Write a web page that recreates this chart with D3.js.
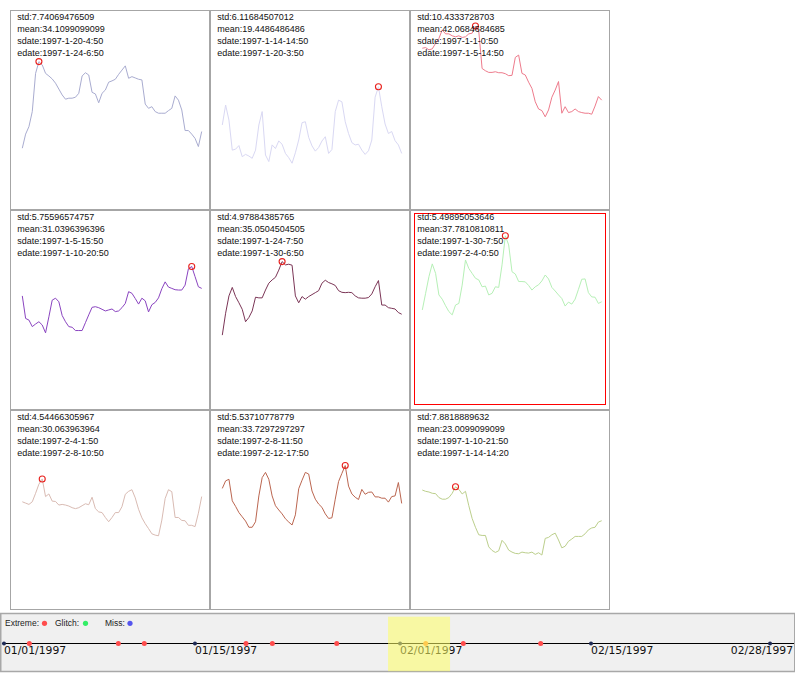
<!DOCTYPE html>
<html><head><meta charset="utf-8">
<script src="https://cdn.jsdelivr.net/npm/d3@7"></script>
<style>body{margin:0;background:#fff}svg{display:block}</style>
</head><body>
<svg id="c" width="795" height="673"></svg>
<script>
// ---- panel data ----
const panelStd = ["7.74069476509","6.11684507012","10.4333728703","5.75596574757","4.97884385765","5.49895053646","4.54466305967","5.53710778779","7.8818889632"];
const panelMean = ["34.1099099099","19.4486486486","42.0684684685","31.0396396396","35.0504504505","37.7810810811","30.063963964","33.7297297297","23.0099099099"];
const panelSdate = ["1997-1-20-4:50","1997-1-14-14:50","1997-1-1-0:50","1997-1-5-15:50","1997-1-24-7:50","1997-1-30-7:50","1997-2-4-1:50","1997-2-8-11:50","1997-1-10-21:50"];
const panelEdate = ["1997-1-24-6:50","1997-1-20-3:50","1997-1-5-14:50","1997-1-10-20:50","1997-1-30-6:50","1997-2-4-0:50","1997-2-8-10:50","1997-2-12-17:50","1997-1-14-14:20"];
const panelColors = ["#a9acd0","#d9d8f3","#ee7b8c","#8a44c0","#7b3556","#b6f0b6","#d9bbb3","#bb6650","#bccf8c"];

const series1 = [17.7,22.0,24.3,28.9,40.6,44.2,43.2,40.6,39.8,38.9,37.6,35.8,34.0,32.7,33.0,33.0,33.3,34.5,39.8,40.8,40.1,34.8,34.3,31.6,34.5,35.5,37.9,38.3,38.8,40.3,41.6,42.9,39.1,39.6,39.2,38.8,38.6,31.2,29.9,30.4,28.9,28.4,28.4,28.4,29.2,29.9,33.7,32.4,29.4,23.1,23.1,22.0,20.7,18.2,22.8];
const series2 = [24.8,30.9,26.3,17.1,17.4,18.5,15.1,15.8,15.3,14.6,17.1,24.8,28.9,15.6,13.6,18.7,17.6,19.9,18.9,16.1,14.8,13.1,16.3,20.2,25.5,25.8,21.0,18.4,16.8,17.9,19.9,21.2,16.1,17.3,28.9,32.4,31.9,25.8,22.2,19.4,18.7,18.9,17.1,15.8,16.9,20.2,33.3,36.5,30.4,25.1,22.2,22.8,20.0,18.7,16.1];
const series3 = [48.3,48.5,47.8,48.1,49.8,51.3,53.9,52.7,52.7,52.1,51.8,52.1,51.6,51.8,52.7,52.9,55.1,53.5,42.1,41.4,40.9,40.9,41.1,40.8,40.8,40.5,39.9,40.0,45.5,46.2,40.6,40.1,37.9,36.0,31.9,29.7,29.2,27.3,29.4,33.3,35.5,38.1,28.4,30.4,28.6,28.9,29.7,28.9,28.6,28.4,28.4,28.1,30.6,33.5,32.4];
const series4 = [33.7,26.8,26.3,24.3,25.1,25.8,24.8,22.4,27.3,32.4,33.0,31.9,27.7,25.8,24.3,24.1,23.1,23.1,23.1,25.5,27.9,30.2,30.4,30.1,29.6,29.1,29.4,29.7,28.9,29.1,30.1,31.4,35.0,34.5,32.9,31.2,33.0,32.2,28.8,31.0,31.7,33.1,35.9,38.0,36.4,36.0,35.6,35.5,35.5,37.0,42.0,42.7,39.6,36.5,36.0];
const series5 = [21.7,28.4,33.7,36.3,33.5,31.6,29.6,25.8,27.1,29.1,33.3,33.1,33.1,35.5,37.6,38.6,39.4,41.6,44.2,43.2,43.4,43.1,33.7,31.6,33.5,32.7,33.5,34.1,34.7,35.3,37.6,38.5,37.8,37.4,36.9,35.3,34.8,34.7,34.8,34.7,33.7,33.1,33.0,33.0,33.2,34.3,36.5,38.4,30.9,30.9,30.1,29.9,29.7,28.6,28.1];
const series6 = [29.4,34.5,39.6,43.5,40.6,34.0,32.7,30.7,28.9,27.9,30.9,31.4,37.0,44.7,42.1,40.6,39.1,38.6,36.5,36.7,34.0,34.5,36.5,36.3,43.2,52.1,49.3,41.1,40.4,38.1,38.1,38.0,36.9,35.5,36.5,37.1,38.3,40.1,38.9,36.3,35.2,34.0,32.9,30.6,31.8,31.2,32.7,35.7,38.8,38.9,34.7,33.4,33.3,31.4,31.9];
const series7 = [31.9,31.5,31.1,31.9,34.5,37.3,38.9,33.5,34.3,32.1,32.0,30.9,31.1,30.9,30.6,30.1,29.8,30.1,30.7,31.3,31.0,33.3,29.8,28.8,28.6,27.1,25.8,27.1,28.6,28.6,30.4,34.2,35.1,35.6,33.1,29.6,27.0,25.2,23.7,22.1,21.7,21.5,26.3,32.9,35.6,35.0,27.1,27.1,26.2,26.1,24.7,24.7,24.3,28.4,33.5];
const series8 = [36.0,38.3,38.8,32.2,30.5,28.6,27.3,26.0,24.1,24.1,25.8,33.7,39.3,40.9,38.8,33.7,30.7,29.4,28.2,26.7,25.7,24.8,27.9,35.9,38.5,40.9,40.4,35.2,32.7,31.2,30.2,28.2,26.8,27.0,32.7,38.1,40.6,43.0,36.7,34.3,33.3,32.6,35.7,34.2,34.8,34.9,33.4,33.4,33.0,33.0,31.8,33.5,33.7,37.8,31.4];
const series9 = [35.5,35.1,34.9,34.5,34.4,33.2,32.7,32.7,33.2,34.5,36.5,35.7,34.3,35.1,30.7,26.8,24.1,21.8,21.6,21.6,18.1,17.0,16.4,16.9,20.1,19.0,17.1,16.5,16.1,16.0,16.5,16.3,16.2,16.5,15.8,16.3,15.6,20.7,21.0,21.8,22.3,20.2,17.8,18.3,19.8,20.5,21.3,21.3,21.3,22.1,23.3,23.9,24.1,25.7,26.1];
const allSeries = [series1,series2,series3,series4,series5,series6,series7,series8,series9];
const selectedPanel = 5;

// ---- timeline data ----
const timeStart = "1997-01-01T00:00", timeEnd = "1997-03-01T00:00";
const tickTimes = ["1997-01-01T04:00","1997-01-15T16:00","1997-01-31T05:45","1997-02-14T17:45","1997-02-28T08:00"];
const tickLabels = ["01/01/1997","01/15/1997","02/01/1997","02/15/1997","02/28/1997"];
const extremeTimes = ["1997-01-03T02:10","1997-01-09T20:24","1997-01-11T19:40","1997-01-19T13:00","1997-01-21T13:00","1997-01-26T10:20","1997-02-02T04:30","1997-02-05T01:00","1997-02-10T22:00"];
const selectedEvent = 6;
const legendNames = ["Extreme:","Glitch:","Miss:"];
const legendColors = ["#ff4d4d","#33ee66","#5555ee"];

const svg = d3.select("#c");
const font = "'Liberation Sans', Arial, sans-serif";

const y = d3.scaleLinear().domain([0,60]).range([196,0]);

function parseSD(s){ // 1997-1-30-7:50
  const p = s.split("-"); const hm = p[3].split(":");
  return new Date(+p[0], +p[1]-1, +p[2], +hm[0], +hm[1]);
}

allSeries.forEach((data,i)=>{
  const col = i%3, row = Math.floor(i/3);
  const g = svg.append("g").attr("transform",`translate(${10+200*col},${10+200*row})`);
  g.append("rect").attr("x",0.5).attr("y",0.5).attr("width",199).attr("height",199)
    .attr("fill","#fff").attr("stroke","#a6a6a6").attr("stroke-width",1);
  if(i===selectedPanel){
    g.append("rect").attr("x",4.5).attr("y",3.5).attr("width",191).attr("height",191)
      .attr("fill","none").attr("stroke","#ff0000").attr("stroke-width",1);
  }
  const x = d3.scaleLinear().domain([0,data.length-1]).range([12.3,191.7]);
  g.append("path").datum(data).attr("fill","none").attr("stroke",panelColors[i]).attr("stroke-width",1)
    .attr("d", d3.line().x((d,k)=>x(k)).y(d=>y(d)));
  const mi = d3.maxIndex(data);
  g.append("circle").attr("cx",x(mi)).attr("cy",y(data[mi])).attr("r",3)
    .attr("fill","none").attr("stroke","#e8201c").attr("stroke-width",1.1);
  const lines = ["std:"+panelStd[i],"mean:"+panelMean[i],"sdate:"+panelSdate[i],"edate:"+panelEdate[i]];
  g.selectAll("text.t").data(lines).enter().append("text")
    .attr("x",7.3).attr("y",(d,k)=>10+12*k).attr("font-family",font).attr("font-size",9)
    .attr("fill","#111").text(d=>d);
});

// ---- timeline ----
const tl = svg.append("g");
tl.append("rect").attr("x",0.75).attr("y",613.5).attr("width",794).attr("height",58)
  .attr("fill","#f0f0f0").attr("stroke","#a8a8a8").attr("stroke-width",1.5);
const tx = d3.scaleTime().domain([new Date(timeStart),new Date(timeEnd)]).range([1.8, 1.8+59*13.17]);

// legend
const legX = [5,55,105], dotX = [44.5,85.5,130];
legendNames.forEach((n,k)=>{
  tl.append("text").attr("x",legX[k]).attr("y",626).attr("font-family",font).attr("font-size",8.5)
    .attr("fill","#222").text(n);
  tl.append("circle").attr("cx",dotX[k]).attr("cy",623.3).attr("r",2.6).attr("fill",legendColors[k]);
});

tl.append("line").attr("x1",2).attr("x2",794).attr("y1",643.5).attr("y2",643.5)
  .attr("stroke","#000").attr("stroke-width",1.2);

tickTimes.forEach((t,k)=>{
  const xx = tx(new Date(t));
  tl.append("circle").attr("cx",xx).attr("cy",643.5).attr("r",2).attr("fill","#1e2a55");
  const txt = tl.append("text").attr("x",xx).attr("y",653.5).attr("font-family","'DejaVu Sans', sans-serif")
    .attr("font-size",10.8).attr("fill","#111").text(tickLabels[k]);
  const w = txt.node().getComputedTextLength();
  if(xx + w > 793) txt.attr("x", 793 - w);
});

extremeTimes.forEach((t,k)=>{
  tl.append("circle").attr("cx",tx(new Date(t))).attr("cy",643.5).attr("r",2.5)
    .attr("fill", k===selectedEvent ? "#ff8833" : "#ff4d4d");
});

// selection band
const s0 = tx(parseSD(panelSdate[selectedPanel])), s1 = tx(parseSD(panelEdate[selectedPanel]));
tl.append("rect").attr("x",s0).attr("y",616.7).attr("width",s1-s0).attr("height",54.5)
  .attr("fill","rgb(255,255,100)").attr("fill-opacity",0.55);
</script>
</body></html>
